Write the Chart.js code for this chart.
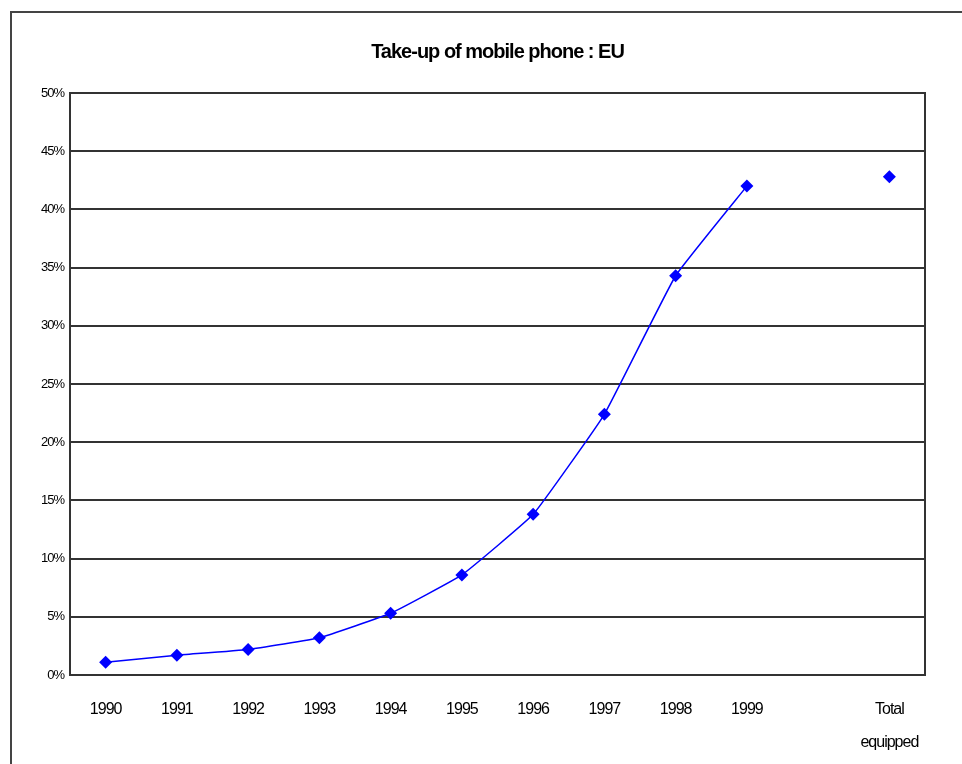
<!DOCTYPE html>
<html>
<head>
<meta charset="utf-8">
<script src="https://cdn.jsdelivr.net/npm/chart.js@4"></script>
<style>
  body { margin: 0; background: #fff; }
  #wrap { position: relative; width: 962px; height: 764px; }
  #frame { position: absolute; left: 10px; top: 11px; width: 970px; height: 780px;
           border-left: 2px solid #444; border-top: 2px solid #444; box-sizing: border-box; }
  canvas { position: absolute; left: 0; top: 0; }
</style>
</head>
<body>
<div id="wrap">
  <div id="frame"></div>
  <canvas id="chart" width="962" height="764"></canvas>
</div>
<script>
// данные
const years = ["1990", "1991", "1992", "1993", "1994", "1995", "1996", "1997", "1998", "1999", "", ["Total", "equipped"]];
const takeUp = [1.1, 1.7, 2.2, 3.2, 5.3, 8.6, 13.8, 22.4, 34.3, 42.0, null, 42.8];
const titleText = "Take-up of mobile phone : EU";

const fontFam = "'Liberation Sans', Arial, sans-serif";

// сжатый текст, как в оригинале
const spacingPlugin = {
  id: "tightText",
  beforeDraw(chart) {
    chart.ctx.letterSpacing = "-1px";
  }
};

// заголовок по центру области графика
const titlePlugin = {
  id: "centerTitle",
  afterDraw(chart) {
    const ctx = chart.ctx;
    const a = chart.chartArea;
    ctx.save();
    ctx.letterSpacing = "-1px";
    ctx.font = "bold 20px " + fontFam;
    ctx.fillStyle = "#000";
    ctx.textAlign = "center";
    ctx.textBaseline = "middle";
    ctx.fillText(titleText, (a.left + a.right) / 2, 52);
    ctx.restore();
  }
};

// рамка области графика
const borderPlugin = {
  id: "plotBorder",
  afterDatasetsDraw(chart) {
    const ctx = chart.ctx;
    const a = chart.chartArea;
    ctx.save();
    ctx.strokeStyle = "#333";
    ctx.lineWidth = 2;
    ctx.strokeRect(a.left, a.top, a.right - a.left, a.bottom - a.top);
    ctx.restore();
  }
};

const ctx = document.getElementById("chart").getContext("2d");
new Chart(ctx, {
  type: "line",
  data: {
    labels: years,
    datasets: [
      {
        label: "Take-up",
        data: takeUp,
        borderColor: "#0000ff",
        backgroundColor: "#0000ff",
        borderWidth: 1.5,
        pointStyle: "rectRot",
        pointRadius: 6.5,
        pointBorderWidth: 0,
        spanGaps: false,
        tension: 0.1,
      },
    ],
  },
  options: {
    responsive: false,
    animation: false,
    layout: { padding: { top: 93, right: 37, left: 0, bottom: 0 } },
    plugins: {
      legend: { display: false },
      title: { display: false },
      tooltip: { enabled: false },
    },
    scales: {
      x: {
        offset: true,
        afterFit(scale) { scale.height = 89; },
        grid: { display: false, drawTicks: false },
        border: { display: true, color: "#333", width: 2 },
        ticks: {
          color: "#000",
          padding: 18,
          maxRotation: 0,
          autoSkip: false,
          font: { family: fontFam, size: 16, lineHeight: "33px" },
        },
      },
      y: {
        min: 0,
        max: 50,
        afterFit(scale) { scale.width = 70; },
        grid: { color: "#333", lineWidth: 2, drawTicks: false },
        border: { display: true, color: "#333", width: 2 },
        ticks: {
          stepSize: 5,
          color: "#000",
          padding: 6,
          font: { family: fontFam, size: 13 },
          callback: (v) => v + "%",
        },
      },
    },
  },
  plugins: [spacingPlugin, titlePlugin, borderPlugin],
});
</script>
</body>
</html>
